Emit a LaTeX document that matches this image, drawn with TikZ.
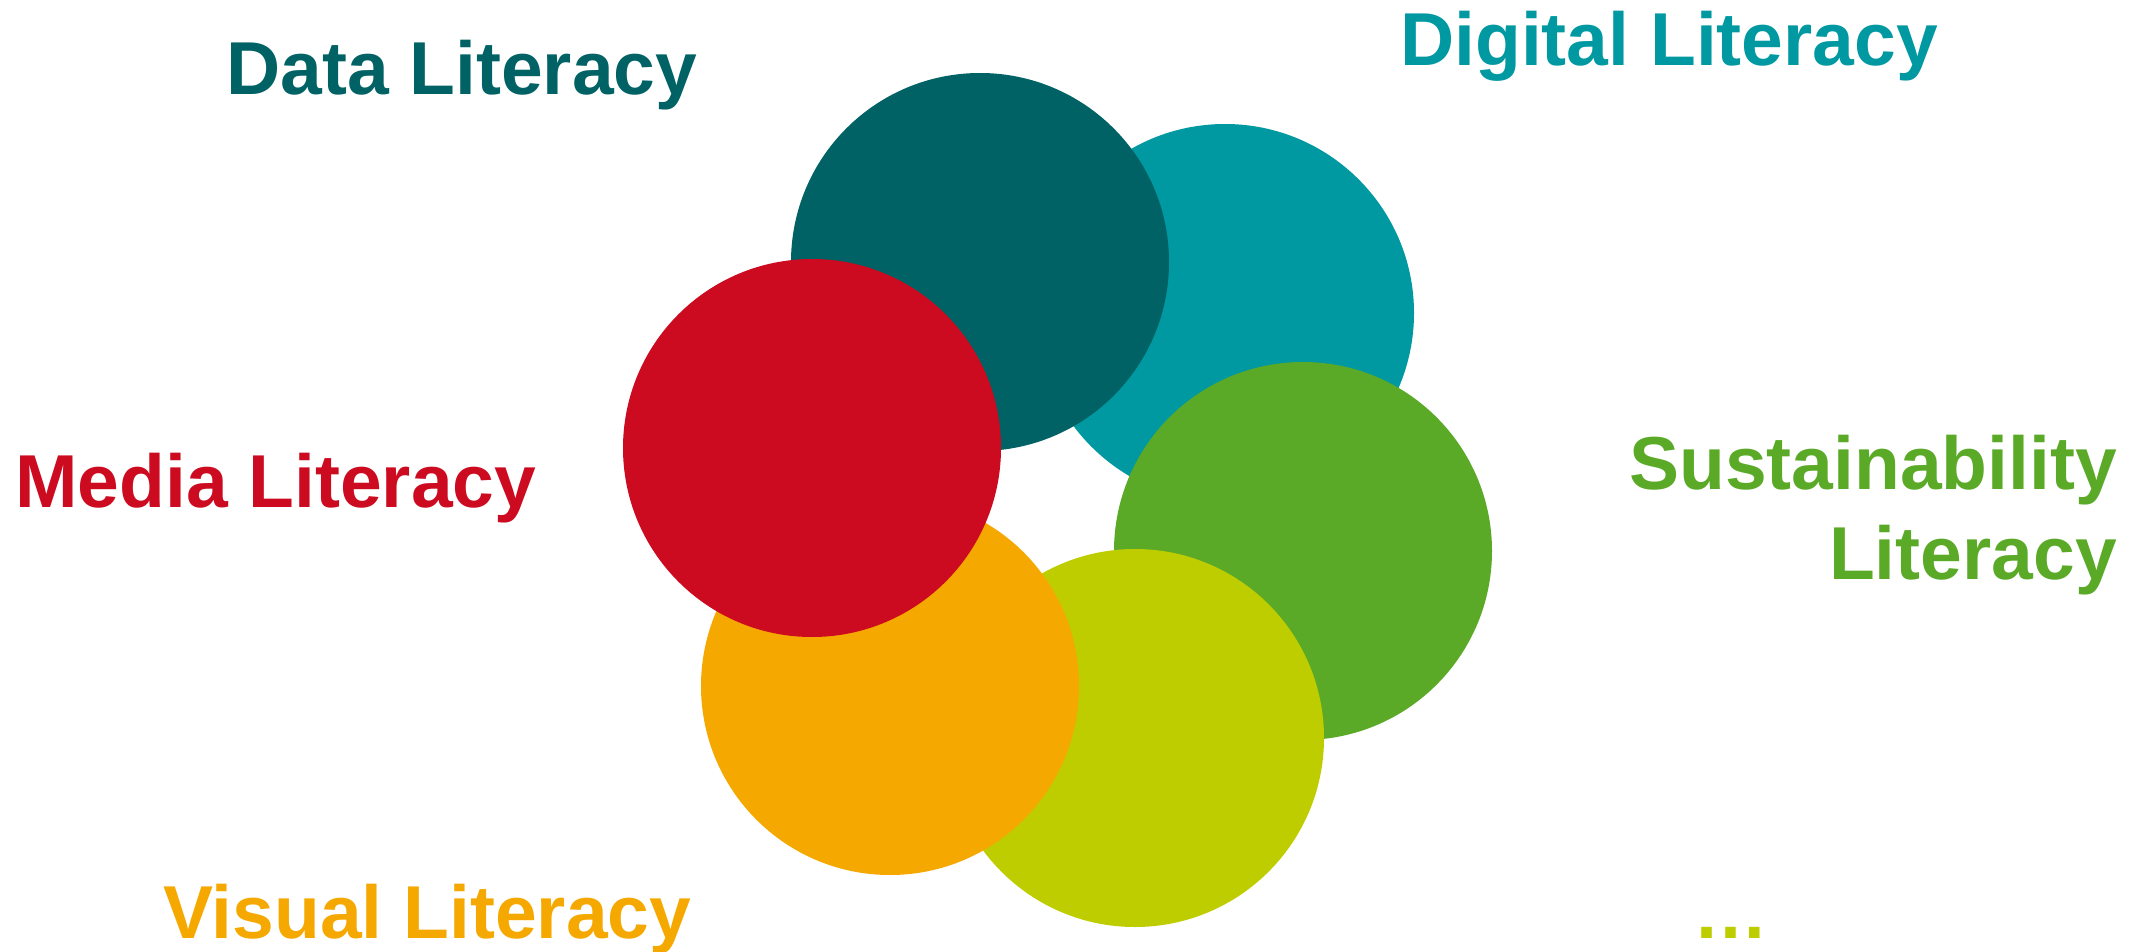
\documentclass[tikz,border=0pt]{standalone}
\usepackage{fontspec}
\setmainfont{Liberation Sans}
\definecolor{datateal}{HTML}{006264}
\definecolor{digitalteal}{HTML}{0098A1}
\definecolor{sustgreen}{HTML}{5AAA28}
\definecolor{limegreen}{HTML}{BECD00}
\definecolor{visualorange}{HTML}{F5A800}
\definecolor{mediared}{HTML}{CC0A20}
\begin{document}
\begin{tikzpicture}[x=1pt,y=-1pt,lit/.style={text=#1,font=\fontsize{75}{90}\selectfont\bfseries,inner sep=0pt}]
\useasboundingbox (0,0) rectangle (2141,952);
\fill[digitalteal] (1225,313) circle (189pt);
\fill[sustgreen] (1303,551) circle (189pt);
\fill[limegreen] (1135,738) circle (189pt);
\fill[visualorange] (890,686) circle (189pt);
\fill[datateal] (980,262) circle (189pt);
\fill[mediared] (812,448) circle (189pt);
\node[lit=datateal,anchor=base west] (data) at (226,95) {Data Literacy};
\node[lit=digitalteal,anchor=base west] (digital) at (1400,66) {Digital Literacy};
\node[lit=mediared,anchor=base west] (media) at (15,507) {Media Literacy};
\node[lit=sustgreen,anchor=base east,align=right] (sust) at (2117,579) {Sustainability\\Literacy};
\node[lit=visualorange,anchor=base west] (visual) at (163,938) {Visual Literacy};
\node[lit=limegreen,anchor=base] (more) at (1731,938) {…};
\end{tikzpicture}
\end{document}
